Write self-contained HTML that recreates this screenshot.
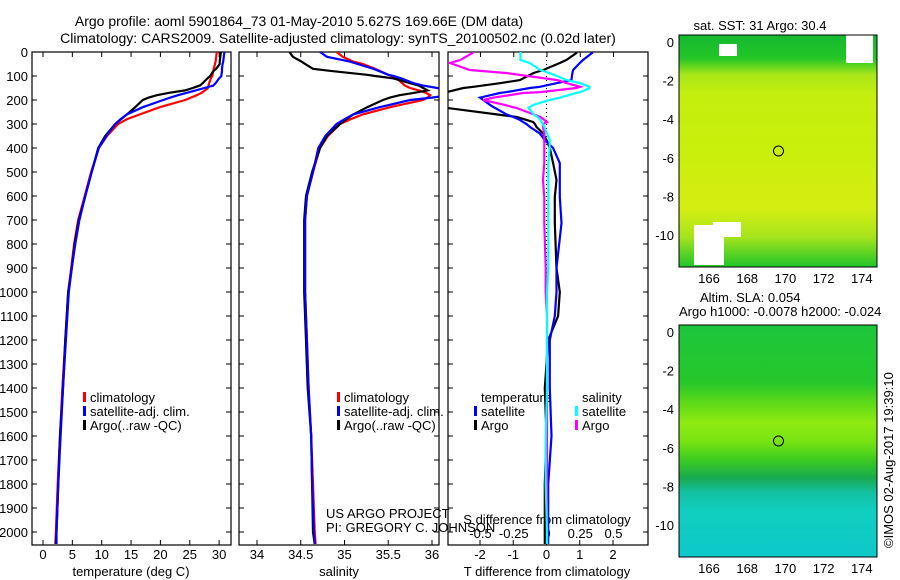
<!DOCTYPE html>
<html><head><meta charset="utf-8"><style>
body{margin:0;background:#fff;width:900px;height:580px;overflow:hidden}
svg{display:block;font-family:"Liberation Sans",sans-serif}
text{font-size:13px;fill:#000}
</style></head><body>
<svg id="c" width="900" height="580" xmlns="http://www.w3.org/2000/svg">
<defs>
<clipPath id="cp1"><rect x="32" y="52" width="199" height="493"/></clipPath>
<clipPath id="cp2"><rect x="239" y="52" width="200" height="493"/></clipPath>
<clipPath id="cp3"><rect x="448" y="52" width="200" height="493"/></clipPath>
<linearGradient id="g1" x1="0" y1="0" x2="0" y2="1">
<stop offset="0" stop-color="#14b830"/><stop offset="0.1" stop-color="#22c626"/><stop offset="0.17" stop-color="#a6e618"/>
<stop offset="0.25" stop-color="#c4ee0e"/><stop offset="0.5" stop-color="#c9ef0c"/><stop offset="0.75" stop-color="#d4ee12"/><stop offset="0.87" stop-color="#a6e41c"/><stop offset="1" stop-color="#1fc62a"/>
</linearGradient>
<linearGradient id="g2" x1="0" y1="0" x2="0" y2="1">
<stop offset="0" stop-color="#1cc53c"/><stop offset="0.25" stop-color="#26c82a"/><stop offset="0.33" stop-color="#5ad81a"/>
<stop offset="0.42" stop-color="#8eea10"/><stop offset="0.5" stop-color="#7ae412"/><stop offset="0.58" stop-color="#3ccc20"/>
<stop offset="0.66" stop-color="#18aa50"/><stop offset="0.72" stop-color="#14c0a0"/><stop offset="0.8" stop-color="#10cfc0"/><stop offset="1" stop-color="#0ec8c8"/>
</linearGradient>
</defs>
<g id="titles">
<text x="299" y="26" text-anchor="middle" style="font-size:14px">Argo profile: aoml 5901864_73 01-May-2010 5.627S 169.66E (DM data)</text>
<text x="338" y="43" text-anchor="middle" style="font-size:14px">Climatology: CARS2009. Satellite-adjusted climatology: synTS_20100502.nc (0.02d later)</text>
</g>
<g id="axes"></g>
<g id="marks"></g>
<g id="maps">
<text x="760" y="30" text-anchor="middle">sat. SST: 31  Argo: 30.4</text>
<rect x="679" y="35" width="198" height="232" fill="url(#g1)"/>
<rect x="719" y="44" width="18" height="12" fill="#fff"/>
<rect x="846" y="35" width="27" height="28" fill="#fff"/>
<rect x="694" y="225" width="30" height="40" fill="#fff"/>
<rect x="713" y="222" width="28" height="15" fill="#fff"/>
<circle cx="778.5" cy="151" r="5" fill="none" stroke="#000"/>
<rect x="679" y="35" width="198" height="232" fill="none" stroke="#000"/>
<text x="700" y="302">Altim. SLA: 0.054</text>
<text x="679" y="316">Argo h1000: -0.0078 h2000: -0.024</text>
<rect x="679" y="325" width="198" height="232" fill="url(#g2)"/>
<circle cx="778.5" cy="441" r="5" fill="none" stroke="#000"/>
<rect x="679" y="325" width="198" height="232" fill="none" stroke="#000"/>
<text transform="translate(893,548) rotate(-90)">©IMOS 02-Aug-2017 19:39:10</text>
</g>
<g id="notes">
<text x="326" y="518">US ARGO PROJECT</text>
<text x="326" y="532">PI: GREGORY C. JOHNSON</text>
</g>
</svg>
<script>
const depths=[0,20,40,50,70,80,95,100,110,130,140,150,160,170,180,190,200,230,260,280,300,350,400,500,600,700,800,900,1000,1200,1400,1600,1800,2000,2050];
const tempArgo=[30.3,30.2,30.1,30.1,29.5,29.0,28.6,28.5,28.0,27.2,26.7,25.5,24.2,21.5,19.4,18.0,17.0,15.7,14.3,13.3,12.3,10.6,9.4,8.3,7.2,6.1,5.4,4.9,4.3,3.8,3.4,2.9,2.6,2.3,2.2];
const tempClim=[29.6,29.5,29.4,29.3,29.1,29.0,28.9,28.8,28.6,28.3,28.2,28.1,27.6,27.0,26.2,25.2,24.2,19.9,16.5,14.3,12.8,10.9,9.5,8.2,7.1,6.0,5.3,4.8,4.3,3.8,3.3,2.9,2.5,2.2,2.1];
const tempSat=[30.9,30.8,30.7,30.6,30.5,30.5,30.4,30.4,30.0,29.4,29.0,27.5,26.0,24.5,23.0,21.7,20.5,17.0,14.3,13.2,12.3,10.8,9.5,8.3,7.2,6.2,5.5,4.9,4.4,3.9,3.4,3.0,2.6,2.3,2.3];
const salArgo=[34.37,34.41,34.51,34.55,34.64,34.87,35.26,35.35,35.56,35.75,35.85,35.9,35.95,35.8,35.63,35.52,35.44,35.26,35.1,35.02,34.95,34.8,34.72,34.63,34.56,34.54,34.54,34.54,34.54,34.56,34.58,34.62,34.63,34.64,34.66];
const salClim=[34.91,34.98,35.1,35.21,35.35,35.41,35.5,35.54,35.6,35.66,35.69,35.75,35.85,35.93,35.98,35.95,35.9,35.52,35.21,35.07,34.95,34.81,34.72,34.64,34.57,34.55,34.55,34.55,34.55,34.57,34.59,34.62,34.64,34.66,34.67];
const salSat=[34.72,34.8,35.06,35.15,35.33,35.4,35.5,35.56,35.65,35.79,35.9,36.06,36.2,36.25,36.2,36.0,35.75,35.4,35.1,35.0,34.91,34.78,34.7,34.64,34.57,34.55,34.55,34.55,34.55,34.57,34.59,34.62,34.63,34.65,34.66];
const diffDepths=[0,4,33,46,75,88,117,130,145,150,167,171,190,200,220,229,233,260,271,283,292,300,312,340,367,400,463,533,604,713,900,1000,1100,1200,1400,1600,1800,2000,2050];
const dTArgo=[0.9,0.9,0.6,0.4,-0.1,-0.4,-0.8,-1.4,-2.2,-2.5,-3,-3,-3,-3,-3,-3,-3,-1.5,-0.9,-0.6,-0.4,-0.35,-0.3,-0.1,0,0.1,0.2,0.3,0.25,0.25,0.3,0.4,0.35,0.05,-0.05,0,-0.05,-0.05,-0.05];
const dTSat=[1.37,1.37,1.1,1.0,0.8,0.78,0.75,0.3,-0.2,-0.5,-1.2,-1.4,-2,-1.9,-1.7,-1.6,-1.55,-1.2,-1.0,-0.8,-0.7,-0.6,-0.5,-0.2,-0.05,0.2,0.4,0.4,0.4,0.45,0.3,0.3,0.25,0.1,0.1,0.15,0.05,0.05,0.05];
const dSArgo=[-0.56,-0.56,-0.65,-0.73,-0.58,-0.3,0.08,0.15,0.25,0.22,-0.05,-0.18,-0.4,-0.48,-0.32,-0.26,-0.23,-0.1,-0.05,-0.02,0,-0.03,-0.03,-0.02,-0.02,-0.02,-0.02,-0.03,-0.02,-0.02,-0.01,-0.01,0,0,0,0,0,0,0];
const dSSat=[-0.2,-0.2,-0.2,-0.13,-0.05,0.02,0.15,0.25,0.32,0.32,0.25,0.22,0.1,0.02,-0.1,-0.13,-0.14,-0.1,-0.07,-0.05,-0.04,-0.03,-0.02,0,0.02,0.02,0.01,0.01,0.01,0.01,0.01,0,0,0,0,-0.01,-0.01,0,0];
const depthTicks=[0,100,200,300,400,500,600,700,800,900,1000,1100,1200,1300,1400,1500,1600,1700,1800,1900,2000];
const tempTicks=[0,5,10,15,20,25,30];
const salTicks=[34,34.5,35,35.5,36];
const dTTicks=[-2,-1,0,1,2];
const dSTicks=[-0.5,-0.25,0,0.25,0.5];
const mapLonTicks=[166,168,170,172,174];
const mapLatTicks=[0,-2,-4,-6,-8,-10];

const NS='http://www.w3.org/2000/svg';
const svg=document.getElementById('c');
const axesG=document.getElementById('axes');
const marksG=document.getElementById('marks');
function mk(tag,attrs,parent){const e=document.createElementNS(NS,tag);for(const k in attrs)e.setAttribute(k,attrs[k]);(parent||axesG).appendChild(e);return e;}
const yD=d=>52+0.24*d;
const xT=t=>43+5.87*t;
const xS=s=>257+87.5*(s-34);
const xdT=t=>546.5+33.25*t;
const xdS=s=>547+133*s;
const lonX=l=>709+19.1*(l-166);
const latY1=l=>42-19.3*l;
const latY2=l=>332-19.3*l;

function frame(x,y,w,h,name){const r=mk('rect',{x:x,y:y,width:w,height:h,fill:'none',stroke:'#000','stroke-width':1.2});

}
frame(32,52,199,493,'temperature-panel-frame');
frame(239,52,200,493,'salinity-panel-frame');
frame(448,52,200,493,'difference-panel-frame');

depthTicks.forEach(d=>{
 const y=yD(d);
 [[32,37],[226,231],[239,244],[434,439],[448,453],[643,648]].forEach(p=>{mk('line',{x1:p[0],x2:p[1],y1:y,y2:y,stroke:'#000'});});
 const t=mk('text',{x:28,y:y+5,'text-anchor':'end'});t.textContent=d;
 
 
});
function xticks(vals,fx,label,ytext,top){vals.forEach(v=>{const x=fx(v);
 mk('line',{x1:x,x2:x,y1:540,y2:545,stroke:'#000'});
 if(top)mk('line',{x1:x,x2:x,y1:52,y2:57,stroke:'#000'});
 const t=mk('text',{x:x,y:ytext,'text-anchor':'middle'});t.textContent=label?label(v):v;
 
 });}
xticks(tempTicks,xT,null,559,true);
xticks(salTicks,xS,null,559,true);
xticks(dTTicks,xdT,null,559,false);
dSTicks.forEach(v=>{const x=xdS(v);mk('line',{x1:x,x2:x,y1:52,y2:57,stroke:'#000'});
 const t=mk('text',{x:x,y:538,'text-anchor':'middle'});t.textContent=v;
 
 });
[[131,'temperature (deg C)','temperature-axis-title'],[339,'salinity','salinity-axis-title'],[547,'T difference from climatology','t-diff-axis-title']].forEach(a=>{
 const t=mk('text',{x:a[0],y:576,'text-anchor':'middle'});t.textContent=a[1];
 
 });
const st=mk('text',{x:547,y:524,'text-anchor':'middle'});st.textContent='S difference from climatology';


mk('line',{x1:xdT(0),x2:xdT(0),y1:52,y2:545,stroke:'#000','stroke-dasharray':'1,3'});

function series(xs,ds,fx,color,clip,name){
 const pts=xs.map((v,i)=>fx(v).toFixed(1)+','+yD(ds[i]).toFixed(1)).join(' ');
 const p=mk('polyline',{points:pts,fill:'none',stroke:color,'stroke-width':2.2,'clip-path':'url(#'+clip+')'},marksG);
 
 }
series(tempClim,depths,xT,'#f00','cp1','temp-climatology-line');
series(tempArgo,depths,xT,'#000','cp1','temp-argo-line');
series(tempSat,depths,xT,'#00f','cp1','temp-satellite-line');
series(salClim,depths,xS,'#f00','cp2','sal-climatology-line');
series(salArgo,depths,xS,'#000','cp2','sal-argo-line');
series(salSat,depths,xS,'#00f','cp2','sal-satellite-line');
series(dTArgo,diffDepths,xdT,'#000','cp3','t-diff-argo-line');
series(dTSat,diffDepths,xdT,'#00f','cp3','t-diff-satellite-line');
series(dSArgo,diffDepths,xdS,'#f0f','cp3','s-diff-argo-line');
series(dSSat,diffDepths,xdS,'#0ff','cp3','s-diff-satellite-line');

function legend(x,y,color,label){
 if(color){const b=mk('rect',{x:x-7,y:y-10,width:3,height:10,fill:color});
 
 }
 const t=mk('text',{x:x,y:y});t.textContent=label;
 
 }
[[90,'#f00','climatology',402],[90,'#00f','satellite-adj. clim.',416],[90,'#000','Argo(..raw -QC)',430]].forEach(a=>legend(a[0],a[3],a[1],a[2]));
[[344,'#f00','climatology',402],[344,'#00f','satellite-adj. clim.',416],[344,'#000','Argo(..raw -QC)',430]].forEach(a=>legend(a[0],a[3],a[1],a[2]));
legend(481,402,null,'temperature');legend(481,416,'#00f','satellite');legend(481,430,'#000','Argo');
legend(582,402,null,'salinity');legend(582,416,'#0ff','satellite');legend(582,430,'#f0f','Argo');

[[latY1,35,267],[latY2,325,557]].forEach(m=>{
 mapLatTicks.forEach(l=>{const y=m[0](l);
  mk('line',{x1:679,x2:684,y1:y,y2:y,stroke:'#000'});mk('line',{x1:872,x2:877,y1:y,y2:y,stroke:'#000'});
  const t=mk('text',{x:674,y:y+5,'text-anchor':'end'});t.textContent=l;
  
  });
 mapLonTicks.forEach(l=>{const x=lonX(l);
  mk('line',{x1:x,x2:x,y1:m[1],y2:m[1]+4,stroke:'#000'});mk('line',{x1:x,x2:x,y1:m[2]-4,y2:m[2],stroke:'#000'});
  const t=mk('text',{x:x,y:m[2]+16,'text-anchor':'middle'});t.textContent=l;
  
  });
});
</script>
</body></html>
